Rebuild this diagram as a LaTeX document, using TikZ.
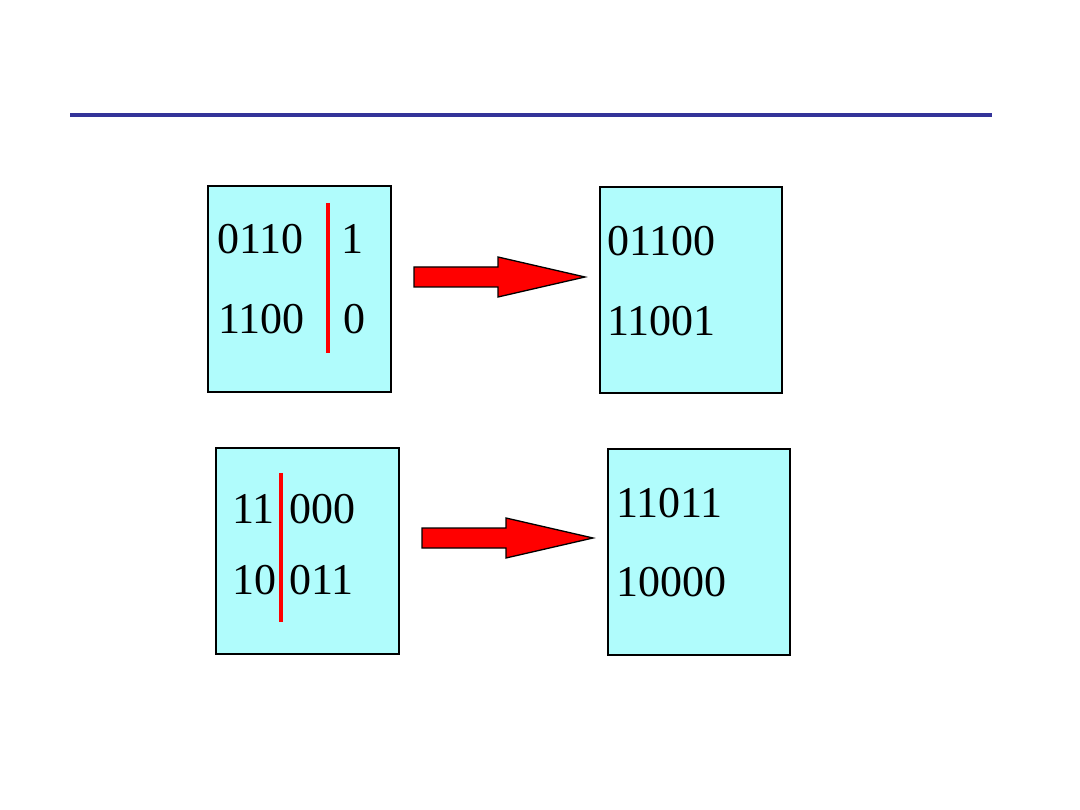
\documentclass[tikz,border=0pt]{standalone}
\usepackage{fontspec}
\setmainfont{Liberation Serif}
\definecolor{rule}{HTML}{333399}
\definecolor{boxfill}{HTML}{B0FCFC}
\definecolor{arrred}{HTML}{FF0000}
\begin{document}
\begin{tikzpicture}[x=1pt,y=-1pt,
  panel/.style={draw=black,line width=2.5pt,fill=boxfill},
  bits/.style={font=\fontsize{44}{44}\selectfont,inner sep=0pt,anchor=base west},
  divider/.style={draw=arrred,line width=4pt},
  bigarrow/.style={draw=black,line width=1.3pt,fill=arrred}]
\useasboundingbox (0,0) rectangle (1080,810);
\fill[white] (0,0) rectangle (1080,810);
\draw[rule,line width=4pt] (70,115) -- (992,115);
% boxes
\draw[panel] (208,186) rectangle (391,392);
\draw[panel] (600,187) rectangle (782,393);
\draw[panel] (216,448) rectangle (399,654);
\draw[panel] (608,449) rectangle (790,655);
% box 1
\node[bits] (a1) at (217,254) {0110};
\node[bits] (a2) at (218,334) {1100};
\node[bits] (a3) at (341,254) {1};
\node[bits] (a4) at (343,334) {0};
\coordinate (d1t) at (328,203);
\coordinate (d1b) at (328,353);
\draw[divider] (d1t) -- (d1b);
% box 2
\node[bits] (b1) at (607,256) {01100};
\node[bits] (b2) at (607,336) {11001};
% box 3
\node[bits] (c1) at (232,523) {11};
\node[bits] (c2) at (232,594) {10};
\node[bits] (c3) at (289,523) {000};
\node[bits] (c4) at (289,594) {011};
\coordinate (d2t) at (281,473);
\coordinate (d2b) at (281,622);
\draw[divider] (d2t) -- (d2b);
% box 4
\node[bits] (e1) at (616,518) {11011};
\node[bits] (e2) at (616,596) {10000};
% arrows
\draw[bigarrow] (414,267) -- (498,267) -- (498,257) -- (585,277) -- (498,297) -- (498,287) -- (414,287) -- cycle;
\draw[bigarrow] (422,528) -- (506,528) -- (506,518) -- (593,538) -- (506,558) -- (506,548) -- (422,548) -- cycle;
\end{tikzpicture}
\end{document}
